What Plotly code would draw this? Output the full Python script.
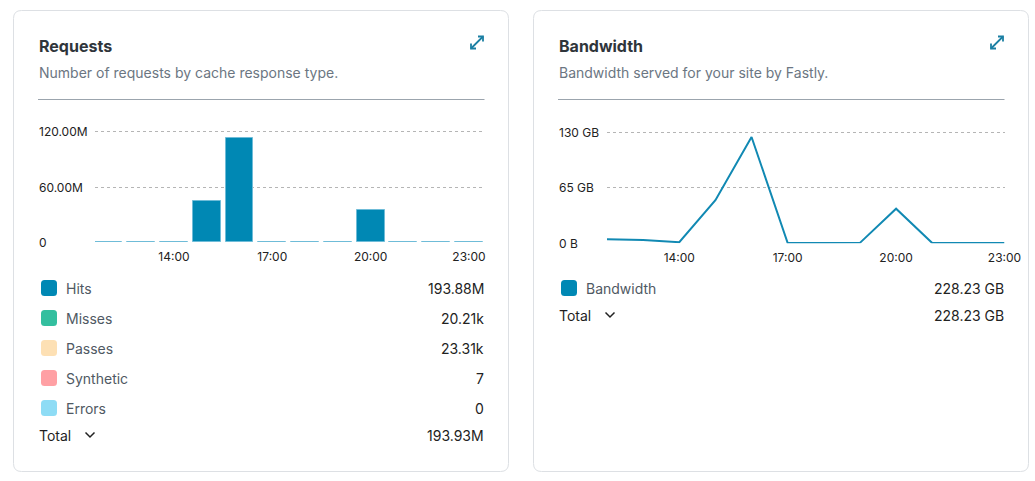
import plotly.graph_objects as go

W, H = 1035, 481
FONT = "Inter"

# ---------------- data ----------------
hours = [12, 13, 14, 15, 16, 17, 18, 19, 20, 21, 22, 23]
x_tick_vals = [14, 17, 20, 23]
x_tick_text = ["14:00", "17:00", "20:00", "23:00"]

# Requests (millions) - hits dominate
hits_m = [0.6, 0.45, 0.05, 44.5, 112.9, 0.05, 0.05, 0.05, 35.5, 0.05, 0.05, 0.05]
req_tick_vals = [0, 60, 120]
req_tick_text = ["0", "60.00M", "120.00M"]

# Bandwidth (GB)
bandwidth_gb = [4.8, 4.0, 1.3, 50.5, 124.5, 0.4, 0.4, 0.5, 40.5, 0.3, 0.3, 0.3]
bw_tick_vals = [0, 65, 130]
bw_tick_text = ["0 B", "65 GB", "130 GB"]

req_legend_labels = ["Hits", "Misses", "Passes", "Synthetic", "Errors"]
req_legend_values = ["193.88M", "20.21k", "23.31k", "7", "0"]
req_legend_colors = ["#0088b4", "#33bf9f", "#fde0b4", "#ffa0a4", "#8edcf5"]
req_total = "193.93M"

bw_legend_labels = ["Bandwidth"]
bw_legend_values = ["228.23 GB"]
bw_legend_colors = ["#0088b4"]
bw_total = "228.23 GB"

# ---------------- helpers ----------------
def px(x):
    return x / W

def py(y):
    return 1 - y / H

shapes = []
annotations = []

def rounded_rect(x0, y0, x1, y1, r, line="#dde0e4", fill="white", width=1):
    p = (f"M {px(x0 + r)},{py(y0)} L {px(x1 - r)},{py(y0)} "
         f"Q {px(x1)},{py(y0)} {px(x1)},{py(y0 + r)} "
         f"L {px(x1)},{py(y1 - r)} Q {px(x1)},{py(y1)} {px(x1 - r)},{py(y1)} "
         f"L {px(x0 + r)},{py(y1)} Q {px(x0)},{py(y1)} {px(x0)},{py(y1 - r)} "
         f"L {px(x0)},{py(y0 + r)} Q {px(x0)},{py(y0)} {px(x0 + r)},{py(y0)} Z")
    shapes.append(dict(type="path", xref="paper", yref="paper", path=p,
                       line=dict(color=line, width=width), fillcolor=fill, layer="below"))

def text(x, y, s, size=13, color="#333", anchor="left", bold=False):
    # compensate for annotation padding
    x = x - 1.5 if anchor == "left" else x + 1.5
    annotations.append(dict(x=px(x), y=py(y), xref="paper", yref="paper", text=s,
                            showarrow=False, xanchor=anchor, yanchor="middle",
                            font=dict(family=FONT, size=size, color=color,
                                      weight=700 if bold else 400)))

def seg_path(points, color, width=1.5):
    p = "M " + " L ".join(f"{px(a)},{py(b)}" for a, b in points)
    shapes.append(dict(type="path", xref="paper", yref="paper", path=p,
                       line=dict(color=color, width=width)))

def expand_icon(cx, cy):
    c = "#1b7fa3"
    x0, y0, x1, y1 = cx - 6, cy + 6, cx + 6, cy - 6
    seg_path([(x0, y0), (x1, y1)], c, 1.8)
    seg_path([(x1 - 5, y1), (x1, y1), (x1, y1 + 5)], c, 1.8)
    seg_path([(x0, y0 - 5), (x0, y0), (x0 + 5, y0)], c, 1.8)

def chevron(cx, cy):
    seg_path([(cx - 4.5, cy - 2.5), (cx, cy + 2), (cx + 4.5, cy - 2.5)], "#222", 1.5)

def card(x0, x1, title, subtitle):
    rounded_rect(x0, 10.5, x1, 471.5, 8)
    text(x0 + 24.5, 45.5, title, size=16, color="#2f353b", bold=True)
    text(x0 + 24.5, 73, subtitle, size=14, color="#6b7682")
    shapes.append(dict(type="line", xref="paper", yref="paper",
                       x0=px(x0 + 24.5), x1=px(x1 - 24), y0=py(99.5), y1=py(99.5),
                       line=dict(color="#9ba4ad", width=1)))
    expand_icon(x1 - 31.5, 42.5)

def legend(x_sw, x_lab, x_val, y_rows, labels, values, colors, x_tot, y_tot, total, chev_x):
    for lab, val, col, yy in zip(labels, values, colors, y_rows):
        rounded_rect(x_sw, yy - 8, x_sw + 16, yy + 8, 3.5, line=col, fill=col, width=0)
        text(x_lab, yy, lab, size=14, color="#4f5963")
        text(x_val, yy, val, size=14, color="#222222", anchor="right")
    text(x_tot, y_tot, "Total", size=14, color="#1f1f1f")
    chevron(chev_x, y_tot)
    text(x_val, y_tot, total, size=14, color="#222222", anchor="right")

# ---------------- cards ----------------
card(13.5, 508.5, "Requests", "Number of requests by cache response type.")
card(533.5, 1028.5, "Bandwidth", "Bandwidth served for your site by Fastly.")

legend(41, 65.5, 484, [288, 318, 348, 378, 408], req_legend_labels, req_legend_values,
       req_legend_colors, 38.5, 435, req_total, 90)
legend(561, 585.5, 1004, [288], bw_legend_labels, bw_legend_values,
       bw_legend_colors, 558.5, 315, bw_total, 610)

# ---------------- traces ----------------
fig = go.Figure()
fig.add_trace(go.Bar(x=hours, y=hits_m, width=0.85, xaxis="x", yaxis="y",
                     marker=dict(color="#0088b4", line=dict(color="#6fbcd8", width=1)),
                     showlegend=False))
fig.add_trace(go.Scatter(x=hours, y=bandwidth_gb, mode="lines", xaxis="x2", yaxis="y2",
                         line=dict(color="#1189b3", width=2), showlegend=False))

# y tick labels as left-aligned annotations (on the data scale)
for v, t in zip(req_tick_vals, req_tick_text):
    annotations.append(dict(x=px(36.5), y=v, xref="paper", yref="y", text=t, showarrow=False,
                            xanchor="left", yanchor="middle",
                            font=dict(family=FONT, size=12, color="#222222")))
for v, t in zip(bw_tick_vals, bw_tick_text):
    annotations.append(dict(x=px(556.5), y=v, xref="paper", yref="y2", text=t, showarrow=False,
                            xanchor="left", yanchor="middle",
                            font=dict(family=FONT, size=12, color="#222222")))

# axes geometry (pixels)
L0, L1 = 95, 484.5
R0, R1 = 607, 1004.5
req_x_range = [12 - (108.4 - L0) / 32.78, 12 + (L1 - 108.4) / 32.78]
req_y_range = [0, 120 * (242.3 - 125) / (242.3 - 131.7)]
bw_y_range = [0, 130 * (243.3 - 125) / (243.3 - 132.3)]

axis_common = dict(showline=False, zeroline=False, ticks="", fixedrange=True, automargin=False)
xaxis_common = dict(axis_common, tickvals=x_tick_vals, ticktext=x_tick_text, showgrid=False,
                    ticklabelstandoff=6,
                    tickfont=dict(family=FONT, size=12, color="#222222"))
yaxis_common = dict(axis_common, showgrid=True, gridcolor="#b5b5b5", griddash="dot",
                    gridwidth=1, showticklabels=False)

fig.update_layout(
    template="none",
    autosize=False,
    width=W, height=H, margin=dict(l=0, r=0, t=0, b=0, pad=0, autoexpand=False),
    paper_bgcolor="white", plot_bgcolor="rgba(0,0,0,0)",
    font=dict(family=FONT),
    bargap=0,
    xaxis=dict(xaxis_common, domain=[px(L0), px(L1)], range=req_x_range, anchor="y"),
    yaxis=dict(yaxis_common, domain=[py(242.3), py(125)], range=req_y_range,
               tickvals=req_tick_vals, anchor="x"),
    xaxis2=dict(xaxis_common, domain=[px(R0), px(R1)], range=[12, 23], anchor="y2"),
    yaxis2=dict(yaxis_common, domain=[py(243.3), py(125)], range=bw_y_range,
                tickvals=bw_tick_vals, anchor="x2"),
    shapes=shapes, annotations=annotations,
)

fig.write_html(
    "out.html",
    config={"responsive": False, "displayModeBar": False},
    post_script="document.documentElement.style.overflow='hidden';"
                "document.body.style.overflow='hidden';document.body.style.margin='0';",
)
